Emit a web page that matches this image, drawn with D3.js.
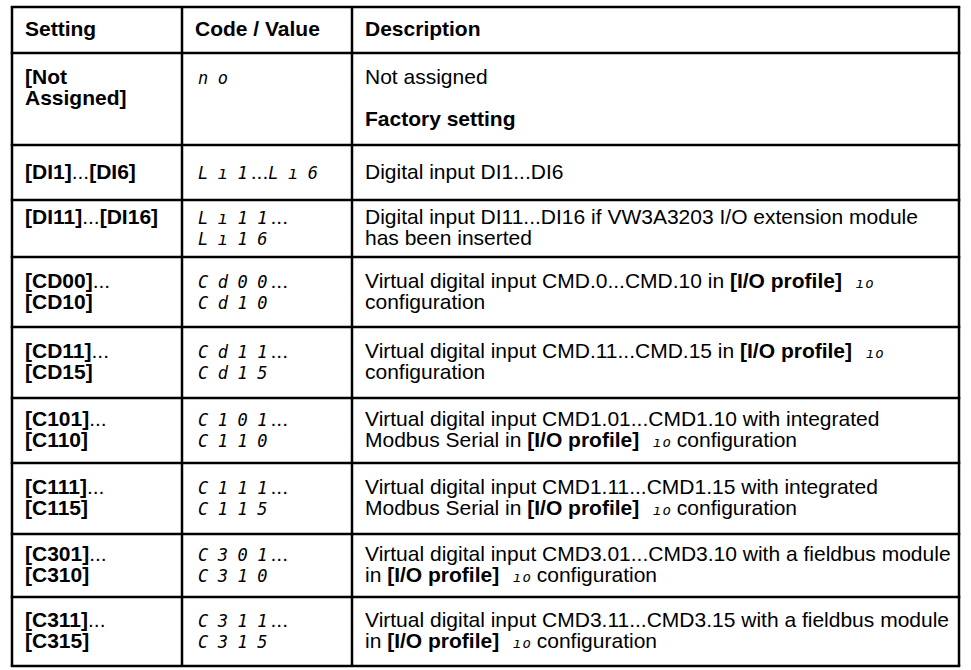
<!DOCTYPE html>
<html>
<head>
<meta charset="utf-8">
<script src="https://cdn.jsdelivr.net/npm/d3@7"></script>
<style>
  html, body { margin: 0; padding: 0; background: #fff; }
  svg { display: block; }
</style>
</head>
<body>
<div id="chart"></div>
<script>
// ---------- data ----------
const headers = ["Setting", "Code / Value", "Description"];

const settings = [
  ["[Not", "Assigned]"],
  ["[DI1]...[DI6]"],
  ["[DI11]...[DI16]"],
  ["[CD00]...", "[CD10]"],
  ["[CD11]...", "[CD15]"],
  ["[C101]...", "[C110]"],
  ["[C111]...", "[C115]"],
  ["[C301]...", "[C310]"],
  ["[C311]...", "[C315]"]
];

const codes = [
  ["no"],
  ["Lı1...Lı6"],
  ["Lı11...", "Lı16"],
  ["Cd00...", "Cd10"],
  ["Cd11...", "Cd15"],
  ["C101...", "C110"],
  ["C111...", "C115"],
  ["C301...", "C310"],
  ["C311...", "C315"]
];

const descriptions = [
  ["Not assigned", "", "**Factory setting**"],
  ["Digital input DI1...DI6"],
  ["Digital input DI11...DI16 if VW3A3203 I/O extension module", "has been inserted"],
  ["Virtual digital input CMD.0...CMD.10 in **[I/O profile]** {ıo}", "configuration"],
  ["Virtual digital input CMD.11...CMD.15 in **[I/O profile]** {ıo}", "configuration"],
  ["Virtual digital input CMD1.01...CMD1.10 with integrated", "Modbus Serial in **[I/O profile]** {ıo} configuration"],
  ["Virtual digital input CMD1.11...CMD1.15 with integrated", "Modbus Serial in **[I/O profile]** {ıo} configuration"],
  ["Virtual digital input CMD3.01...CMD3.10 with a fieldbus module", "in **[I/O profile]** {ıo} configuration"],
  ["Virtual digital input CMD3.11...CMD3.15 with a fieldbus module", "in **[I/O profile]** {ıo} configuration"]
];

// ---------- layout ----------
const W = 971, H = 670;
const colEdges = [12, 182, 352, 959];
const tableTop = 7;
const rowHeights = [46, 92, 55, 57, 70, 71, 65, 71, 63, 69];
const padX = 13;
const lineH = 21;
const fontSize = 21;
const segSize = 17, segGap = 9.5;
const inlineSize = 14, inlineGap = 1;
const textFont = "'Liberation Sans', Arial, Helvetica, sans-serif";
const segFont = "'DejaVu Sans Mono', monospace";

const rowEdges = [tableTop, ...Array.from(d3.cumsum(rowHeights), v => v + tableTop)];

const svg = d3.select("#chart").append("svg")
  .attr("width", W).attr("height", H)
  .attr("viewBox", `0 0 ${W} ${H}`);

svg.append("rect").attr("width", W).attr("height", H).attr("fill", "#fff");

// ---------- segment parsers ----------
function segsSetting(line) {
  return line.split(/(\.\.\.)/).filter(s => s !== "")
    .map(s => ({ text: s, kind: s === "..." ? "reg" : "bold" }));
}
function segsCode(line) {
  return line.split(/(\.\.\.)/).filter(s => s !== "")
    .map(s => ({ text: s, kind: s === "..." ? "dots" : "seg" }));
}
function segsDesc(line) {
  return line.split(/(\*\*[^*]+\*\*|\{[^}]+\})/).filter(s => s !== "")
    .map(s => {
      if (s.startsWith("**")) return { text: s.slice(2, -2), kind: "bold" };
      if (s.startsWith("{")) return { text: s.slice(1, -1), kind: "inline" };
      return { text: s, kind: "reg" };
    });
}

// per-character offsets for the seven-segment style runs (no trailing gap)
function dxFor(d, i) {
  if (d.kind === "seg") {
    return Array.from(d.text, (_, k) => k === 0 ? (i === 0 ? 3 : 0) : segGap).join(" ");
  }
  if (d.kind === "inline") {
    return Array.from(d.text, (_, k) => k === 0 ? 8 : inlineGap).join(" ");
  }
  if (d.kind === "dots") return 3;
  return 0;
}

// ---------- build cells ----------
const cells = [];
headers.forEach((h, c) => {
  cells.push({ row: 0, col: c, lines: [[{ text: h, kind: "bold" }]], n: 1 });
});
settings.forEach((_, i) => {
  const n = Math.max(settings[i].length, codes[i].length, descriptions[i].length);
  cells.push({ row: i + 1, col: 0, lines: settings[i].map(segsSetting), n });
  cells.push({ row: i + 1, col: 1, lines: codes[i].map(segsCode), n });
  cells.push({ row: i + 1, col: 2, lines: descriptions[i].map(segsDesc), n });
});

// ---------- grid lines ----------
const grid = svg.append("g").attr("stroke", "#000").attr("stroke-width", 2.5);
grid.selectAll("line.h").data(rowEdges).join("line")
  .attr("class", "h")
  .attr("x1", colEdges[0] - 1.25).attr("x2", colEdges[colEdges.length - 1] + 1.25)
  .attr("y1", d => d).attr("y2", d => d);
grid.selectAll("line.v").data(colEdges).join("line")
  .attr("class", "v")
  .attr("x1", d => d).attr("x2", d => d)
  .attr("y1", rowEdges[0]).attr("y2", rowEdges[rowEdges.length - 1]);

// ---------- text ----------
const isSeg = k => k === "seg" || k === "inline";
const cellG = svg.append("g").attr("fill", "#000");
cells.forEach(cell => {
  const top = rowEdges[cell.row], bottom = rowEdges[cell.row + 1];
  const center = (top + bottom) / 2;
  const firstCenter = center - (cell.n - 1) * lineH / 2 - 1;
  const x = colEdges[cell.col] + padX;
  cell.lines.forEach((segs, li) => {
    if (!segs.length) return;
    const t = cellG.append("text")
      .attr("x", x)
      .attr("y", firstCenter + li * lineH + 7)
      .attr("font-family", textFont)
      .attr("font-size", fontSize);
    t.selectAll("tspan").data(segs).join("tspan")
      .text(d => d.text)
      .attr("xml:space", "preserve")
      .style("white-space", "pre")
      .attr("font-weight", d => d.kind === "bold" ? "bold" : "normal")
      .attr("font-family", d => isSeg(d.kind) ? segFont : textFont)
      .attr("font-style", d => isSeg(d.kind) ? "oblique" : "normal")
      .attr("font-size", d => d.kind === "seg" ? segSize : d.kind === "inline" ? inlineSize : fontSize)
      .attr("dx", dxFor);
  });
});
</script>
</body>
</html>
